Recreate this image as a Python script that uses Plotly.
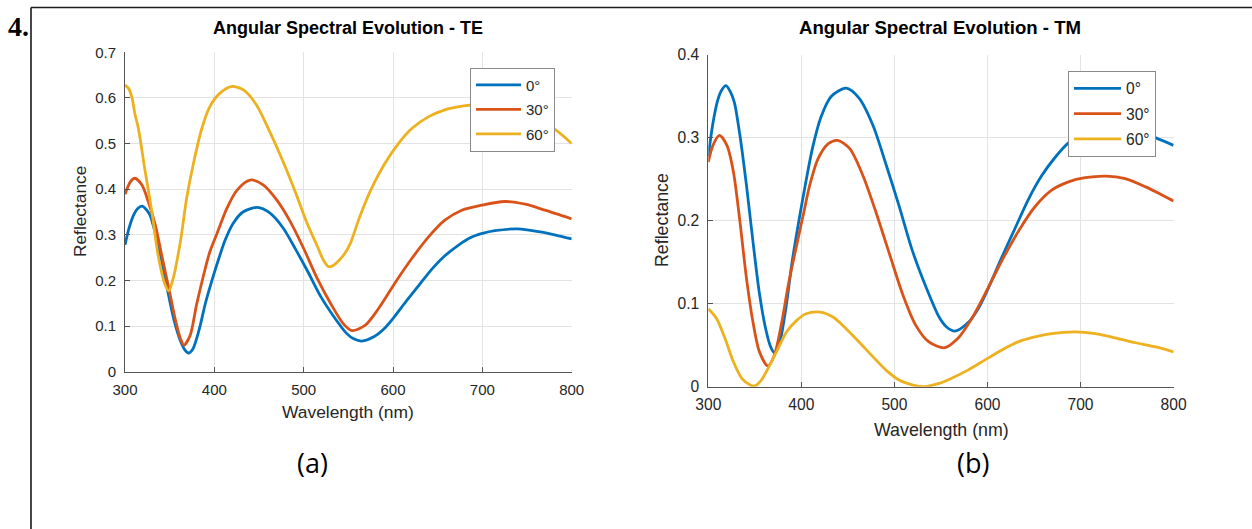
import plotly.graph_objects as go

# ---------------- data ----------------
# 0 deg (normal incidence: identical for TE and TM)
WL_0 = [300, 305, 310, 314, 319, 324, 328, 334, 341, 348, 355, 362, 367, 371, 376, 383,
        390, 397, 405, 412, 421, 432, 448, 462, 477, 491, 505, 519, 534, 548, 556, 565,
        579, 590, 601, 615, 630, 644, 658, 673, 687, 700, 714, 740, 763, 781, 800]
R_0 = [0.278, 0.318, 0.345, 0.357, 0.363, 0.355, 0.343, 0.303, 0.243, 0.175, 0.112, 0.068,
       0.048, 0.041, 0.050, 0.092, 0.150, 0.198, 0.248, 0.288, 0.325, 0.350, 0.360, 0.348,
       0.315, 0.268, 0.218, 0.165, 0.120, 0.084, 0.072, 0.067, 0.077, 0.094, 0.119, 0.155,
       0.192, 0.226, 0.254, 0.277, 0.294, 0.303, 0.309, 0.313, 0.307, 0.300, 0.291]

# TE, 30 deg
WL_TE_30 = [300, 306, 311, 319, 326, 334, 341, 349, 356, 362, 366, 373, 380, 388, 395, 403,
            414, 425, 440, 455, 470, 485, 500, 515, 530, 544, 554, 569, 584, 602, 621, 640,
            658, 677, 699, 725, 748, 770, 800]
R_TE_30 = [0.389, 0.416, 0.424, 0.409, 0.373, 0.321, 0.256, 0.183, 0.117, 0.073, 0.058, 0.080,
           0.146, 0.212, 0.263, 0.303, 0.358, 0.397, 0.420, 0.409, 0.376, 0.329, 0.270, 0.205,
           0.150, 0.106, 0.090, 0.102, 0.139, 0.194, 0.248, 0.296, 0.332, 0.354, 0.365, 0.373,
           0.367, 0.354, 0.335]

# TE, 60 deg
WL_TE_60 = [300, 304, 308, 311, 315, 322, 330, 337, 345, 349, 354, 362, 369, 377, 386, 395,
            406, 419, 433, 447, 462, 477, 492, 503, 515, 522, 528, 534, 541, 546, 552, 557,
            561, 568, 576, 591, 606, 621, 640, 658, 681, 695, 720, 740, 760, 782, 800]
R_TE_60 = [0.628, 0.621, 0.599, 0.566, 0.533, 0.446, 0.351, 0.256, 0.190, 0.177, 0.205, 0.285,
           0.380, 0.460, 0.533, 0.581, 0.610, 0.625, 0.617, 0.585, 0.526, 0.460, 0.387, 0.329,
           0.276, 0.245, 0.230, 0.234, 0.247, 0.259, 0.280, 0.307, 0.330, 0.366, 0.402, 0.457,
           0.500, 0.533, 0.559, 0.574, 0.583, 0.585, 0.580, 0.570, 0.554, 0.530, 0.500]

# TM, 30 deg
WL_TM_30 = [300, 305, 312, 320, 327, 334, 341, 348, 355, 364, 371, 379, 386, 395, 402, 409,
            418, 429, 439, 452, 466, 480, 495, 509, 523, 537, 554, 568, 583, 597, 615, 633,
            651, 669, 687, 705, 727, 748, 770, 788, 800]
R_TM_30 = [0.271, 0.291, 0.303, 0.291, 0.259, 0.199, 0.131, 0.078, 0.042, 0.025, 0.038, 0.078,
           0.123, 0.171, 0.207, 0.243, 0.275, 0.293, 0.297, 0.287, 0.255, 0.211, 0.159, 0.111,
           0.074, 0.054, 0.047, 0.058, 0.082, 0.111, 0.151, 0.187, 0.217, 0.237, 0.247, 0.252,
           0.254, 0.251, 0.241, 0.231, 0.224]

# TM, 60 deg
WL_TM_60 = [300, 309, 318, 327, 336, 345, 350, 357, 366, 375, 384, 395, 405, 420, 434, 448,
            462, 477, 491, 505, 520, 532, 548, 561, 579, 597, 615, 633, 651, 669, 694, 716,
            737, 759, 781, 800]
R_TM_60 = [0.094, 0.082, 0.058, 0.030, 0.010, 0.002, 0.001, 0.008, 0.026, 0.046, 0.066, 0.080,
           0.088, 0.090, 0.084, 0.070, 0.054, 0.036, 0.020, 0.008, 0.002, 0.000, 0.004, 0.010,
           0.020, 0.032, 0.044, 0.054, 0.060, 0.064, 0.066, 0.064, 0.059, 0.053, 0.048, 0.042]

ANGLE_LABELS = ["0°", "30°", "60°"]
X_TICKS = [300, 400, 500, 600, 700, 800]
Y_TICKS_TE = [0, 0.1, 0.2, 0.3, 0.4, 0.5, 0.6, 0.7]
Y_TICKS_TM = [0, 0.1, 0.2, 0.3, 0.4]
TITLE_TE = "Angular Spectral Evolution - TE"
TITLE_TM = "Angular Spectral Evolution - TM"
X_LABEL = "Wavelength (nm)"
Y_LABEL = "Reflectance"

# ---------------- styling ----------------
COLORS = ["#0072BD", "#D95319", "#EDB120"]
FONT = "Liberation Sans, Arial, Helvetica, sans-serif"
W, H = 1252, 529
TXT = "#262626"
GRID = "#e3e3e3"
AXLINE = "#555555"


def px(x):
    return x / W


def py(y):
    return 1 - y / H


fig = go.Figure()

te_series = [(WL_0, R_0), (WL_TE_30, R_TE_30), (WL_TE_60, R_TE_60)]
tm_series = [(WL_0, R_0), (WL_TM_30, R_TM_30), (WL_TM_60, R_TM_60)]

for i, (wl, r) in enumerate(te_series):
    fig.add_trace(go.Scatter(
        x=wl, y=r, mode="lines", name=ANGLE_LABELS[i],
        line=dict(color=COLORS[i], width=2.8, shape="spline", smoothing=0.8),
        xaxis="x", yaxis="y", legend="legend", legendgroup="te%d" % i,
    ))
for i, (wl, r) in enumerate(tm_series):
    fig.add_trace(go.Scatter(
        x=wl, y=r, mode="lines", name=ANGLE_LABELS[i],
        line=dict(color=COLORS[i], width=2.8, shape="spline", smoothing=0.8),
        xaxis="x2", yaxis="y2", legend="legend2", legendgroup="tm%d" % i,
    ))

common_ax = dict(
    showline=True, linecolor=AXLINE, linewidth=1,
    ticks="inside", ticklen=5, tickcolor=AXLINE, tickwidth=1,
    showgrid=True, gridcolor=GRID, gridwidth=1, zeroline=False,
    automargin=False,
)


def ticktext(vals):
    return [("%g" % v) for v in vals]


fig.update_layout(
    width=W, height=H,
    margin=dict(l=0, r=0, t=0, b=0, pad=0, autoexpand=False),
    paper_bgcolor="white", plot_bgcolor="white",
    font=dict(family=FONT, color=TXT, size=15),
    xaxis=dict(domain=[px(125), px(571.7)], range=[300, 800], anchor="y",
               tickvals=X_TICKS, ticktext=ticktext(X_TICKS),
               tickfont=dict(size=15, color=TXT), ticklabelstandoff=4, **common_ax),
    yaxis=dict(domain=[py(371.7), py(52.3)], range=[0, 0.7], anchor="x",
               tickvals=Y_TICKS_TE, ticktext=ticktext(Y_TICKS_TE),
               tickfont=dict(size=15, color=TXT), ticklabelstandoff=5, **common_ax),
    xaxis2=dict(domain=[px(708.3), px(1173.6)], range=[300, 800], anchor="y2",
                tickvals=X_TICKS, ticktext=ticktext(X_TICKS),
                tickfont=dict(size=15.6, color=TXT), ticklabelstandoff=4, **common_ax),
    yaxis2=dict(domain=[py(386.7), py(55)], range=[0, 0.4], anchor="x2",
                tickvals=Y_TICKS_TM, ticktext=ticktext(Y_TICKS_TM),
                tickfont=dict(size=15.6, color=TXT), ticklabelstandoff=5, **common_ax),
    legend=dict(x=px(470), y=py(67.7), xanchor="left", yanchor="top",
                bgcolor="white", bordercolor="#8a8a8a", borderwidth=1,
                font=dict(size=15, color=TXT, family=FONT), tracegroupgap=2,
                itemwidth=45),
    legend2=dict(x=px(1068), y=py(70.7), xanchor="left", yanchor="top",
                 bgcolor="white", bordercolor="#8a8a8a", borderwidth=1,
                 font=dict(size=15.6, color=TXT, family=FONT), tracegroupgap=2,
                 itemwidth=47),
    showlegend=True,
)

ann = []
# section number
ann.append(dict(text="<b>4.</b>", x=px(6), y=py(26), xref="paper", yref="paper",
                xanchor="left", yanchor="middle", showarrow=False,
                font=dict(family="Liberation Serif, Times New Roman, serif", size=28, color="#000")))
# titles
ann.append(dict(text="<b>%s</b>" % TITLE_TE, x=px(348), y=py(28), xref="paper", yref="paper",
                xanchor="center", yanchor="middle", showarrow=False,
                font=dict(family=FONT, size=18, color="#000")))
ann.append(dict(text="<b>%s</b>" % TITLE_TM, x=px(940), y=py(28), xref="paper", yref="paper",
                xanchor="center", yanchor="middle", showarrow=False,
                font=dict(family=FONT, size=18.6, color="#000")))
# axis titles
ann.append(dict(text=X_LABEL, x=px(348), y=py(412), xref="paper", yref="paper",
                xanchor="center", yanchor="middle", showarrow=False,
                font=dict(family=FONT, size=17.4, color=TXT)))
ann.append(dict(text=X_LABEL, x=px(941), y=py(430), xref="paper", yref="paper",
                xanchor="center", yanchor="middle", showarrow=False,
                font=dict(family=FONT, size=17.8, color=TXT)))
ann.append(dict(text=Y_LABEL, x=px(80), y=py(212), xref="paper", yref="paper",
                xanchor="center", yanchor="middle", showarrow=False, textangle=-90,
                font=dict(family=FONT, size=17.3, color=TXT)))
ann.append(dict(text=Y_LABEL, x=px(662), y=py(220), xref="paper", yref="paper",
                xanchor="center", yanchor="middle", showarrow=False, textangle=-90,
                font=dict(family=FONT, size=17.8, color=TXT)))
# panel captions
ann.append(dict(text="(a)", x=px(312), y=py(462), xref="paper", yref="paper",
                xanchor="center", yanchor="middle", showarrow=False,
                font=dict(family="Open Sans, Noto Sans, sans-serif", size=27, color="#000")))
ann.append(dict(text="(b)", x=px(973), y=py(462), xref="paper", yref="paper",
                xanchor="center", yanchor="middle", showarrow=False,
                font=dict(family="Open Sans, Noto Sans, sans-serif", size=27, color="#000")))
fig.update_layout(annotations=ann)

# page frame lines (top and left)
fig.add_shape(type="line", xref="paper", yref="paper",
              x0=px(31), x1=1, y0=py(7.5), y1=py(7.5), line=dict(color="#1a1a1a", width=1.6))
fig.add_shape(type="line", xref="paper", yref="paper",
              x0=px(31), x1=px(31), y0=py(7.5), y1=0, line=dict(color="#1a1a1a", width=1.6))

# remove the default 8px page margin so the figure fills the window exactly
fig.write_html("out.html", config={"displayModeBar": False},
               post_script="document.body.style.margin='0';")
